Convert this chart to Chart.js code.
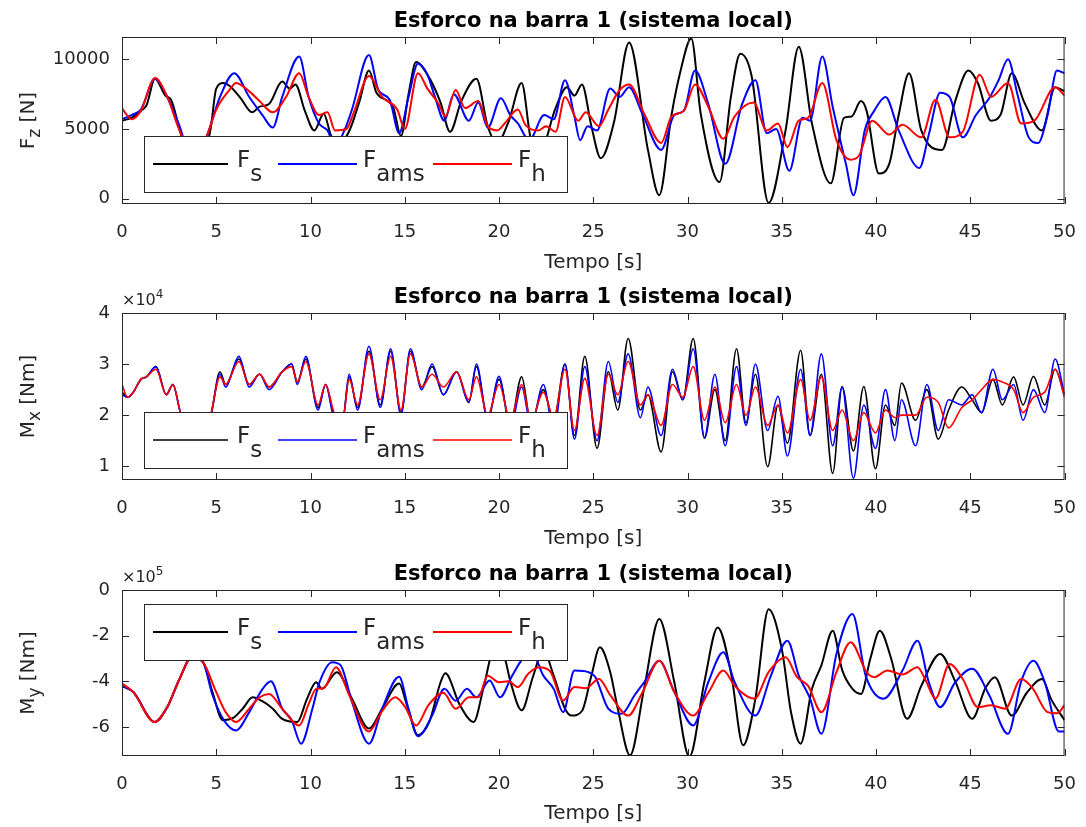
<!DOCTYPE html>
<html>
<head>
<meta charset="utf-8">
<title>Esforco na barra 1</title>
<script src="https://cdn.jsdelivr.net/npm/chart.js@4.4.1/dist/chart.umd.min.js"></script>
<style>
  html, body { margin: 0; padding: 0; background: #fff; }
  body { width: 1086px; height: 827px; position: relative; overflow: hidden; }
  .painel { position: absolute; left: 0; width: 1086px; }
  .painel canvas { display: block; }
</style>
</head>
<body>
<div class="painel" style="top:0"><canvas id="g-fz" width="1086" height="276"></canvas></div>
<div class="painel" style="top:276px"><canvas id="g-mx" width="1086" height="276"></canvas></div>
<div class="painel" style="top:552px"><canvas id="g-my" width="1086" height="275"></canvas></div>
<script>
// eixo do tempo
const ticksTempo = [0, 5, 10, 15, 20, 25, 30, 35, 40, 45, 50];

// ---- F_z [N]
const ticksFz = [0, 5000, 10000];
const tFzS = [0,0.5,1.0,1.3,1.75,2.3,2.6,3.2,3.8,4.4,4.7,5.0,5.4,5.7,6.3,6.9,7.3,7.8,8.5,8.9,9.2,9.7,10.2,10.7,11.1,11.6,12.1,12.6,13.1,13.5,14.1,14.4,14.8,15.2,15.6,16.2,16.9,17.4,18.0,18.8,19.4,19.9,20.5,21.2,21.7,22.2,23.0,23.6,24.0,24.4,24.9,25.4,26.1,26.9,27.9,28.5,29.15,29.6,30.2,30.7,31.7,32.3,32.8,33.4,34.3,35.2,35.9,36.6,37.6,38.3,38.7,39.2,39.5,40.15,40.7,41.2,41.75,42.4,43.5,44.2,44.9,45.4,46.1,46.6,47.2,47.9,48.8,49.5,50];
const fzS = [5600,5800,6300,6700,8600,7400,7100,4300,2800,3500,5000,7900,8300,8100,7200,6200,6600,6800,8400,7900,8200,6300,4900,6100,4500,4000,5000,7000,9200,7600,7000,6500,4500,7500,9800,8900,6900,4800,7000,8600,5200,4000,5500,8300,4200,3500,6500,8000,7400,8200,5200,2900,5500,11200,3500,250,6000,9000,11500,6100,1200,7300,10400,8800,-300,4900,10900,5400,1100,5800,5900,7000,6300,1800,2500,6000,9000,4900,3500,7000,9200,8300,5600,6000,9000,6800,4900,8000,7700];
const tFzAms = [0,0.5,1.0,1.75,2.4,3.0,3.8,4.5,5.2,5.95,6.75,7.45,8.0,8.5,9.4,9.9,10.45,10.9,11.3,11.8,12.2,13.1,13.6,14.2,14.7,15.2,15.7,16.2,16.6,17.1,17.6,18.4,18.9,19.4,20.1,20.6,21.0,21.6,22.4,22.9,23.5,24.0,24.3,24.7,25.2,25.9,26.4,26.9,27.6,28.6,29.3,29.8,30.4,31.1,32.0,32.9,33.6,34.2,34.7,35.4,36.1,36.5,37.15,37.7,38.4,38.8,39.4,39.9,40.5,41.2,42.3,42.8,43.4,43.9,44.6,45.3,46.0,46.5,47.0,47.5,48.1,48.6,49.1,49.6,50];
const fzAms = [5700,6000,6400,8600,7300,5400,2600,4500,7300,9000,7300,6000,5100,7300,10200,7300,5400,4900,3800,4900,6400,10300,7800,7100,4700,7300,9700,8900,7300,5600,7500,5600,6900,5100,7200,6000,5400,4200,6000,5700,8500,5900,4200,5200,4900,7900,7300,8000,6100,3500,6000,6300,9200,6800,2500,6800,8500,4700,5000,2000,5800,5600,10200,6600,2500,250,4900,6300,7300,4900,2200,4600,7600,7300,4400,6000,7200,8500,10000,7500,4400,4000,6000,9200,9000];
const tFzH = [0,0.15,0.5,1.0,1.75,2.4,3.05,3.8,4.5,5.0,5.7,6.05,6.75,7.3,8.0,8.7,9.4,9.9,10.45,10.9,11.3,11.9,12.3,13.1,13.8,14.6,15.0,15.7,16.2,16.8,17.15,17.7,18.2,18.9,19.4,19.9,20.3,21.0,21.4,22.1,22.5,23.0,23.5,24.2,24.6,25.3,25.8,26.4,26.9,27.7,28.6,29.15,29.8,30.4,31.1,31.9,32.5,33.5,34.2,34.8,35.3,35.9,36.4,37.15,37.9,38.65,39.1,39.8,40.7,41.4,42.4,43.15,43.9,44.6,45.5,46.1,47.0,47.7,48.4,49.5,50];
const fzH = [6500,6200,5700,6300,8650,7300,4900,3000,4500,6400,7800,8300,7700,7000,6200,7300,9000,7300,6000,6200,4900,5000,6200,8800,7300,6400,5000,9000,7900,6800,5900,7800,6500,7000,5200,4900,5400,6400,5300,4900,5200,4800,7300,5600,6200,5200,6400,7800,8200,6100,4000,5900,6300,8200,6600,4300,5900,6900,4900,5400,3700,5600,5800,8300,4200,2800,3100,5600,4600,5300,4400,7100,4400,4800,8900,7300,8300,5400,5600,8000,7400];

// ---- M_x [Nm]
const ticksMx = [10000, 20000, 30000, 40000];
const tMx = [0,0.3,0.6,1.0,1.3,1.8,2.35,2.7,3.1,3.6,4.1,4.6,5.2,5.5,6.2,6.75,7.3,7.8,8.5,9.0,9.3,9.75,10.4,10.8,11.25,11.7,12.05,12.5,13.1,13.7,14.25,14.8,15.3,15.9,16.45,17.05,17.75,18.4,18.8,19.4,20.0,20.6,21.2,21.7,22.35,22.9,23.5,24.0,24.55,25.2,25.8,26.3,26.85,27.5,27.9,28.6,29.2,29.75,30.3,30.9,31.45,32.0,32.6,33.1,33.6,34.25,34.8,35.3,36.0,36.5,37.1,37.7,38.2,38.8,39.35,39.97,40.5,41.0,41.35,42.1,42.7,43.3,43.85,44.55,45.1,45.6,46.2,46.7,47.3,47.8,48.35,48.95,49.5,50];
const mxS = [24500,23500,24500,27000,27500,29500,24000,26000,20500,17000,19500,19000,28500,26000,31000,26000,28000,25500,28500,30000,26500,31000,21500,26000,20000,19000,27500,21500,32500,22000,32500,20500,32500,25500,29500,24000,28500,22500,29500,19500,27000,18500,27500,18500,25000,19000,30000,16000,31500,13500,28500,21000,35000,21000,24000,12800,28500,23000,35000,15500,25000,15000,33000,18500,28000,9900,22000,14500,32700,16000,28000,8600,25600,13000,25600,9500,22000,18000,26300,19000,25000,15300,21000,25500,23000,20500,27000,22000,27500,22000,27600,22000,29000,24000];
const mxAms = [24000,23500,24500,27000,27500,29500,24000,26000,20500,17000,19500,19000,28000,25500,31500,25500,28000,25000,28500,30000,26000,31500,21000,26000,19500,19000,28000,21000,33500,21500,33000,20000,33000,25000,30000,24000,28500,22500,30000,19000,27600,17500,25500,18000,26000,17000,30000,15300,29500,15000,30500,22500,32000,19500,25500,16000,29000,23000,33000,15600,28000,14000,29500,18000,30000,17000,23700,12000,29000,16000,32000,14000,25500,7600,22000,13500,25000,15000,23000,14000,26000,17000,23000,22000,24000,20500,29000,23000,26000,19000,25000,20500,31000,24000];
const mxH = [26000,23500,24500,27000,27500,29000,24000,26000,20500,17000,20500,19500,27500,26000,30500,26000,28000,25500,28500,29500,26500,30500,22000,26000,20500,19000,27000,22000,32000,23000,31500,21000,32000,25500,28000,25500,28500,23000,27500,20000,26000,19000,26000,19000,24500,19500,29000,17000,27200,16000,28000,24000,30500,22000,24000,18000,26000,23500,29500,19000,25500,18500,26000,20000,25500,18000,22000,16500,27000,19000,27500,17000,21000,15000,20500,16500,21000,19500,20000,20000,23500,22500,17500,21500,23000,25000,27000,26500,25000,20500,23500,24500,29000,23500];

// ---- M_y [Nm]
const ticksMy = [-600000, -400000, -200000, 0];
const tMyS = [0,0.6,1.73,2.4,3.05,3.7,4.3,4.8,5.35,5.9,6.4,6.93,7.4,8.0,8.5,9.3,9.8,10.3,10.6,11.4,12.2,13.1,13.8,14.7,15.1,15.7,16.3,16.9,17.15,17.9,18.65,19.2,19.7,20.3,20.6,21.2,21.8,22.35,22.9,23.5,23.85,24.4,24.9,25.35,25.9,26.3,26.95,27.7,28.5,29.3,30.1,30.9,31.6,32.3,32.95,33.6,34.3,35.0,35.5,36.0,36.6,37.1,37.7,38.2,38.75,39.2,39.7,40.2,40.8,41.65,42.4,43.4,44.2,45.1,45.8,46.3,47.2,48.0,48.8,49.3,50];
const myS = [-420000,-447000,-578000,-513000,-390000,-295000,-316000,-447000,-570000,-560000,-520000,-470000,-485000,-520000,-564000,-578000,-480000,-404000,-433000,-360000,-476000,-607000,-520000,-410000,-500000,-636000,-578000,-404000,-365000,-500000,-578000,-420000,-270000,-300000,-400000,-527000,-380000,-265000,-375000,-520000,-550000,-530000,-375000,-251000,-360000,-520000,-724000,-430000,-127000,-404000,-730000,-400000,-164000,-360000,-680000,-476000,-84000,-258000,-540000,-673000,-433000,-330000,-178000,-350000,-433000,-455000,-300000,-178000,-300000,-564000,-420000,-280000,-400000,-564000,-430000,-382000,-550000,-450000,-390000,-480000,-570000];
const tMyAms = [0,0.6,1.73,2.4,3.05,3.7,4.3,4.8,5.4,6.05,6.75,7.46,7.9,8.5,9.0,9.5,10.1,10.45,11.15,11.6,12.2,13.1,13.8,14.7,15.2,15.7,16.45,17.1,17.7,18.3,18.8,19.5,20.05,20.7,21.4,21.8,22.35,22.9,23.4,24.0,24.75,25.1,25.8,26.5,27.2,27.7,28.5,29.3,30.3,31.1,31.9,32.5,33.6,34.4,35.3,35.9,36.5,37.1,37.9,38.75,39.45,40.4,41.4,42.2,42.8,43.4,44.2,45.1,46.0,47.0,47.7,48.35,48.95,49.7,50];
const myAms = [-420000,-447000,-578000,-513000,-390000,-295000,-316000,-460000,-570000,-615000,-535000,-433000,-400000,-520000,-570000,-673000,-520000,-410000,-316000,-330000,-490000,-673000,-520000,-380000,-520000,-640000,-550000,-433000,-485000,-433000,-470000,-396000,-470000,-375000,-290000,-285000,-375000,-433000,-535000,-353000,-360000,-380000,-520000,-542000,-460000,-404000,-310000,-447000,-593000,-404000,-273000,-404000,-550000,-380000,-222000,-375000,-476000,-630000,-280000,-105000,-375000,-476000,-353000,-222000,-404000,-513000,-404000,-345000,-460000,-630000,-400000,-310000,-404000,-620000,-620000];
const tMyH = [0,0.6,1.73,2.4,3.05,3.7,4.3,5.0,5.5,6.05,6.75,7.3,7.8,8.5,9.4,9.9,10.3,10.7,11.35,12.05,13.1,13.8,14.5,15.0,15.6,16.25,17.05,17.7,18.4,18.9,19.4,20.0,20.5,21.0,21.55,22.1,22.7,23.4,24.0,24.6,25.3,25.9,26.85,27.6,28.5,29.3,30.3,31.1,31.9,32.5,33.55,34.3,35.2,35.8,36.4,37.1,37.9,38.65,39.5,39.9,40.6,41.4,42.2,42.6,43.15,43.9,44.6,45.4,46.1,46.85,47.7,48.3,49.1,49.6,50];
const myH = [-410000,-447000,-578000,-513000,-390000,-295000,-316000,-447000,-535000,-578000,-520000,-470000,-455000,-520000,-593000,-500000,-433000,-430000,-338000,-460000,-620000,-530000,-470000,-510000,-593000,-505000,-450000,-520000,-470000,-470000,-375000,-404000,-400000,-425000,-367000,-338000,-355000,-484000,-425000,-430000,-390000,-460000,-550000,-450000,-310000,-447000,-550000,-450000,-353000,-420000,-476000,-360000,-295000,-380000,-420000,-535000,-360000,-229000,-360000,-382000,-353000,-370000,-338000,-390000,-476000,-324000,-390000,-513000,-505000,-520000,-390000,-430000,-535000,-540000,-505000];

const FONTE = '"DejaVu Sans", "Liberation Sans", sans-serif';
const COR_EIXO = '#262626';
const TITULO = 'Esforco na barra 1 (sistema local)';

function serie(t, v) { return t.map((x, i) => ({ x, y: v[i] })); }

// escreve trechos [texto, tipo] (tipo: 1 = subscrito, 2 = sobrescrito)
function larguraTrechos(ctx, trechos, tam, tamSub) {
  let w = 0;
  for (const [txt, s] of trechos) {
    ctx.font = `${s ? tamSub : tam}px ${FONTE}`;
    w += ctx.measureText(txt).width;
  }
  return w;
}
function escreveTrechos(ctx, trechos, x, y, tam, tamSub, desloc) {
  for (const [txt, s] of trechos) {
    ctx.font = `${s ? tamSub : tam}px ${FONTE}`;
    const dy = s === 1 ? desloc : s === 2 ? -desloc : 0;
    ctx.fillText(txt, x, y + dy);
    x += ctx.measureText(txt).width;
  }
  return x;
}

const decoracao = {
  id: 'decoracao',
  afterDraw(chart, args, o) {
    const { ctx, chartArea: a } = chart;
    const sx = chart.scales.x, sy = chart.scales.y;
    ctx.save();

    // moldura e marcas para dentro nos quatro lados
    ctx.strokeStyle = COR_EIXO;
    ctx.lineWidth = 1;
    ctx.strokeRect(a.left + 0.5, a.top + 0.5, a.width - 1, a.height - 1);
    const L = 7;
    ctx.beginPath();
    sx.ticks.forEach(tk => {
      const px = Math.round(sx.getPixelForValue(tk.value)) + 0.5;
      ctx.moveTo(px, a.bottom); ctx.lineTo(px, a.bottom - L);
      ctx.moveTo(px, a.top); ctx.lineTo(px, a.top + L);
    });
    sy.ticks.forEach(tk => {
      const py = Math.round(sy.getPixelForValue(tk.value)) + 0.5;
      ctx.moveTo(a.left, py); ctx.lineTo(a.left + L, py);
      ctx.moveTo(a.right, py); ctx.lineTo(a.right - L, py);
    });
    ctx.stroke();

    // titulo
    ctx.fillStyle = '#000';
    ctx.textAlign = 'center';
    ctx.textBaseline = 'alphabetic';
    ctx.font = `bold 21px ${FONTE}`;
    ctx.fillText(TITULO, (a.left + a.right) / 2, a.top - 10);

    // fator de escala (x10^n)
    ctx.textAlign = 'left';
    ctx.fillStyle = COR_EIXO;
    if (o.expoente) {
      escreveTrechos(ctx, [['\u00d710', 0], [o.expoente, 2]], a.left, a.top - 8, 16, 12, 7);
    }

    // rotulo do eixo y (girado)
    ctx.save();
    ctx.translate(o.rotuloX, (a.top + a.bottom) / 2);
    ctx.rotate(-Math.PI / 2);
    const wr = larguraTrechos(ctx, o.rotulo, 20, 17);
    escreveTrechos(ctx, o.rotulo, -wr / 2, 0, 20, 17, 6);
    ctx.restore();

    // legenda
    const lg = o.legenda;
    const bx = a.left + 22, by = a.top + lg.top, bw = 423, bh = 56;
    ctx.fillStyle = '#fff';
    ctx.fillRect(bx, by, bw, bh);
    ctx.strokeStyle = COR_EIXO;
    ctx.lineWidth = 1;
    ctx.strokeRect(bx + 0.5, by + 0.5, bw, bh);
    const itens = [[9, 84, 93], [134, 213, 219], [289, 368, 374]];
    chart.data.datasets.forEach(ds => {
      const [x0, x1, xt] = itens[ds.ordemLegenda];
      ctx.strokeStyle = ds.borderColor;
      ctx.lineWidth = ds.borderWidth;
      ctx.beginPath();
      ctx.moveTo(bx + x0, by + 28);
      ctx.lineTo(bx + x1, by + 28);
      ctx.stroke();
      ctx.fillStyle = COR_EIXO;
      escreveTrechos(ctx, ds.rotuloRico, bx + xt, by + 31, 23, 23, 14);
    });
    ctx.restore();
  }
};

function grafico(id, cfg) {
  const dados = cfg.series.map((s, i) => ({
    label: s.nome,
    data: serie(s.t, s.v),
    borderColor: s.cor,
    borderWidth: cfg.espessura,
    pointRadius: 0,
    fill: false,
    cubicInterpolationMode: 'monotone',
    order: 2 - i,          // vermelho por cima, como no original
    ordemLegenda: i,
    rotuloRico: s.rico
  }));
  return new Chart(document.getElementById(id), {
    type: 'line',
    data: { datasets: dados },
    options: {
      responsive: false,
      animation: false,
      events: [],
      layout: { padding: { top: cfg.topo, right: 19, left: 0, bottom: 0 } },
      plugins: {
        legend: { display: false },
        tooltip: { enabled: false },
        title: { display: false },
        decoracao: { rotulo: cfg.rotulo, rotuloX: 34, expoente: cfg.expoente, legenda: { top: cfg.legendaTopo } }
      },
      scales: {
        x: {
          type: 'linear', min: 0, max: 50,
          afterBuildTicks: s => { s.ticks = ticksTempo.map(v => ({ value: v })); },
          afterFit: s => { s.height = cfg.alturaX; },
          grid: { display: false },
          border: { display: false },
          ticks: { color: COR_EIXO, font: { family: FONTE, size: 18 }, padding: 10, maxRotation: 0 },
          title: { display: true, text: 'Tempo [s]', color: COR_EIXO, font: { family: FONTE, size: 20 }, padding: { top: 0, bottom: 1 } }
        },
        y: {
          type: 'linear', min: cfg.yMin, max: cfg.yMax,
          afterBuildTicks: s => { s.ticks = cfg.ticks.map(v => ({ value: v })); },
          afterFit: s => { s.width = 122; },
          grid: { display: false },
          border: { display: false },
          ticks: { color: COR_EIXO, font: { family: FONTE, size: 18 }, padding: 4, callback: v => String(v / cfg.divisor) }
        }
      }
    },
    plugins: [decoracao]
  });
}

const PRETO = '#000000', AZUL = '#0000ff', VERMELHO = '#ff0000';
const rotS = [['F', 0], ['s', 1]], rotAms = [['F', 0], ['ams', 1]], rotH = [['F', 0], ['h', 1]];

grafico('g-fz', {
  topo: 37, alturaX: 72, yMin: -380, yMax: 11600, ticks: ticksFz, divisor: 1,
  espessura: 2, legendaTopo: 99,
  rotulo: [['F', 0], ['z', 1], [' [N]', 0]],
  series: [
    { nome: 'Fs', t: tFzS, v: fzS, cor: PRETO, rico: rotS },
    { nome: 'Fams', t: tFzAms, v: fzAms, cor: AZUL, rico: rotAms },
    { nome: 'Fh', t: tFzH, v: fzH, cor: VERMELHO, rico: rotH }
  ]
});

grafico('g-mx', {
  topo: 37, alturaX: 72, yMin: 7300, yMax: 40000, ticks: ticksMx, divisor: 10000,
  espessura: 1.6, legendaTopo: 99, expoente: '4',
  rotulo: [['M', 0], ['x', 1], [' [Nm]', 0]],
  series: [
    { nome: 'Fs', t: tMx, v: mxS, cor: PRETO, rico: rotS },
    { nome: 'Fams', t: tMx, v: mxAms, cor: AZUL, rico: rotAms },
    { nome: 'Fh', t: tMx, v: mxH, cor: VERMELHO, rico: rotH }
  ]
});

grafico('g-my', {
  topo: 38, alturaX: 71, yMin: -727000, yMax: 0, ticks: ticksMy, divisor: 100000,
  espessura: 2, legendaTopo: 14, expoente: '5',
  rotulo: [['M', 0], ['y', 1], [' [Nm]', 0]],
  series: [
    { nome: 'Fs', t: tMyS, v: myS, cor: PRETO, rico: rotS },
    { nome: 'Fams', t: tMyAms, v: myAms, cor: AZUL, rico: rotAms },
    { nome: 'Fh', t: tMyH, v: myH, cor: VERMELHO, rico: rotH }
  ]
});
</script>
</body>
</html>
